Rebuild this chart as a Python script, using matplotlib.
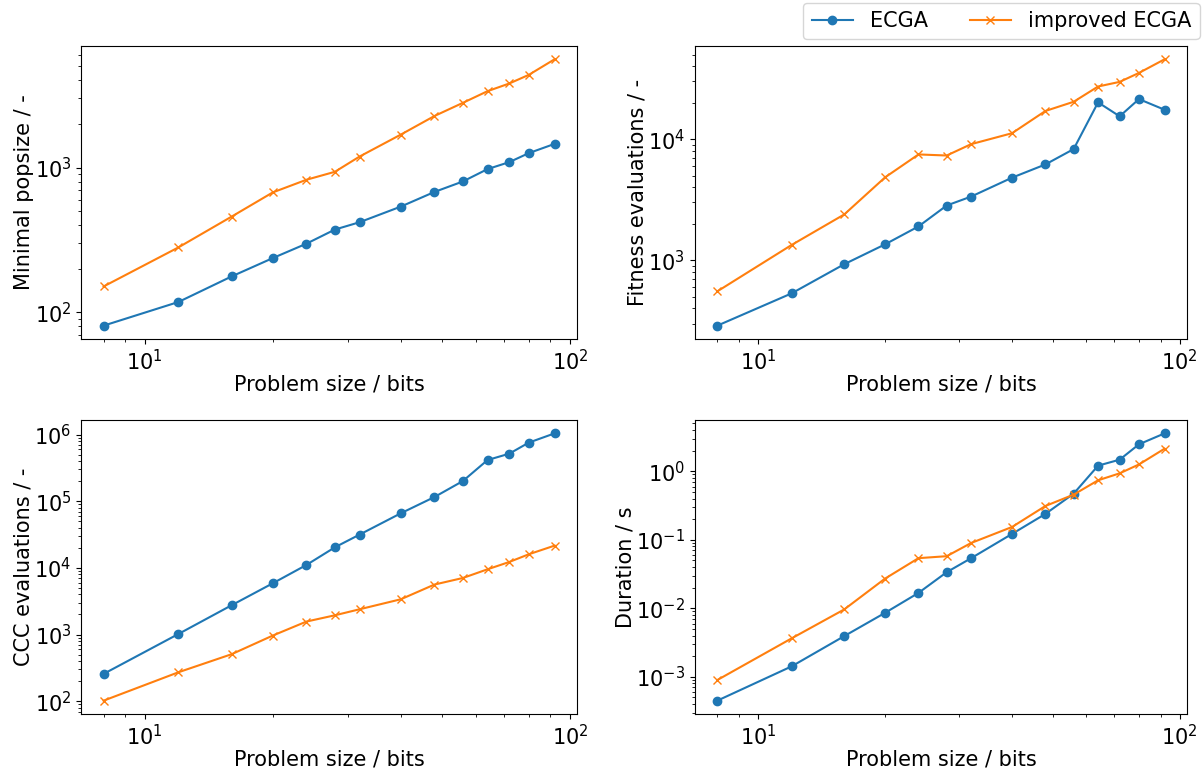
import matplotlib
matplotlib.use("Agg")
import matplotlib.pyplot as plt

# Problemgroessen (bits)
sizes = [8, 12, 16, 20, 24, 28, 32, 40, 48, 56, 64, 72, 80, 92]

# minimale Populationsgroesse
popsize_ecga = [81, 118, 177, 237, 298, 373, 419, 537, 678, 801, 975, 1089, 1256, 1455]
popsize_impr = [151, 281, 458, 673, 823, 934, 1190, 1686, 2266, 2794, 3363, 3800, 4356, 5581]

# Fitness-Auswertungen
fitness_ecga = [288, 532, 927, 1353, 1902, 2832, 3357, 4808, 6185, 8280, 20140, 15450, 21440, 17510]
fitness_impr = [553, 1336, 2389, 4839, 7480, 7330, 9100, 11200, 17100, 20370, 27240, 29750, 35260, 45700]

# CCC-Auswertungen
ccc_ecga = [257, 1021, 2750, 5875, 11070, 20370, 31570, 65900, 115600, 200900, 415000, 517000, 757000, 1042000]
ccc_impr = [102, 272, 507, 966, 1567, 1946, 2395, 3382, 5623, 7060, 9530, 12270, 16000, 21580]

# Laufzeit (s)
dur_ecga = [4.49e-4, 1.42e-3, 3.93e-3, 8.6e-3, 0.0168, 0.0337, 0.054, 0.122, 0.239, 0.472, 1.21, 1.48, 2.48, 3.58]
dur_impr = [8.98e-4, 3.64e-3, 9.64e-3, 0.0272, 0.054, 0.0577, 0.090, 0.154, 0.312, 0.457, 0.74, 0.935, 1.26, 2.14]

plt.rcParams['font.size'] = 15

fig = plt.figure(figsize=(12.04, 7.69), dpi=100)
ax1 = fig.add_axes([0.0673, 0.5592, 0.412, 0.381])
ax2 = fig.add_axes([0.5772, 0.5592, 0.4086, 0.381])
ax3 = fig.add_axes([0.0673, 0.0715, 0.412, 0.3823])
ax4 = fig.add_axes([0.5772, 0.0715, 0.4086, 0.3823])

panels = [
    (ax1, popsize_ecga, popsize_impr, 'Minimal popsize / -'),
    (ax2, fitness_ecga, fitness_impr, 'Fitness evaluations / -'),
    (ax3, ccc_ecga, ccc_impr, 'CCC evaluations / -'),
    (ax4, dur_ecga, dur_impr, 'Duration / s'),
]

for ax, a, b, ylabel in panels:
    ax.plot(sizes, a, marker='o', markersize=6, color='tab:blue', label='ECGA')
    ax.plot(sizes, b, marker='x', markersize=6, color='tab:orange', label='improved ECGA')
    ax.set_xscale('log')
    ax.set_yscale('log')
    ax.set_xlabel('Problem size / bits', labelpad=0.5)
    ax.set_ylabel(ylabel, labelpad=0.5)

handles, labels = ax1.get_legend_handles_labels()
fig.legend(handles, labels, loc='upper right', ncol=2, bbox_to_anchor=(1.005, 1.01))

fig.savefig('out.png', dpi=100)
